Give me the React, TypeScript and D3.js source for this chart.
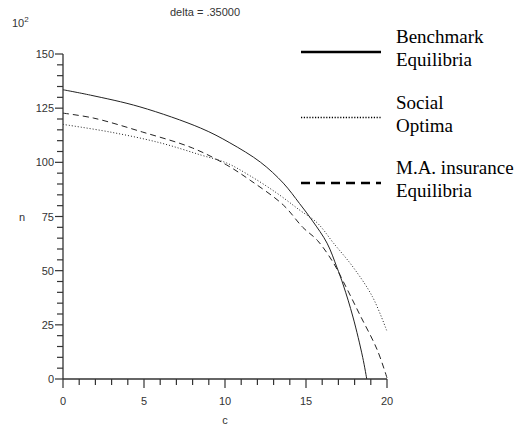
import React from 'react';
import * as d3 from 'd3';

const W = 518;
const H = 433;

// series (c, n in units of 10^2)
const benchC = [0, 1.7, 4.75, 8.5, 10.3, 12.2, 13.6, 14.6, 15.4, 16.3, 16.9, 17.3, 17.9, 18.5, 18.75];
const benchN = [133.5, 131, 125.6, 115.8, 109, 100, 90.4, 81, 73, 62.7, 51.7, 43.4, 28.6, 10, 0];

const socialC = [0, 2.9, 6, 8.5, 10.1, 11.5, 13.2, 14.6, 15.7, 16.7, 17.9, 19.1, 20];
const socialN = [117.5, 114, 109, 103.4, 99.7, 94, 85.8, 78, 72, 62.7, 51.7, 38, 22];

const maC = [0, 1.9, 4.9, 8, 10.1, 11.6, 13.6, 14.8, 15.7, 16.7, 17.3, 18.3, 19.4, 20];
const maN = [122.7, 120.4, 114, 106.6, 98.8, 91.5, 80.3, 70, 64, 53.5, 45, 30, 13.4, 0.5];

const xMajor = [0, 5, 10, 15, 20];
const yMajor = [0, 25, 50, 75, 100, 125, 150];

const legendItems = [
  { lines: ['Benchmark', 'Equilibria'], dash: null },
  { lines: ['Social', 'Optima'], dash: '1.2 1.6' },
  { lines: ['M.A. insurance', 'Equilibria'], dash: '9 6' },
];

const x = d3.scaleLinear().domain([0, 20]).range([63, 387]);
const y = d3.scaleLinear().domain([0, 150]).range([379, 54]);

const line = d3
  .line<[number, number]>()
  .x(d => x(d[0]))
  .y(d => y(d[1]))
  .curve(d3.curveCatmullRom.alpha(0.5));

const pts = (cs: number[], ns: number[]) => cs.map((c, i) => [c, ns[i]] as [number, number]);

const sans = 'Arial, "Liberation Sans", sans-serif';
const serif = '"Liberation Serif", "Times New Roman", serif';
const axisColor = '#333';

export default function App() {
  const xMinor = d3.range(0, 21, 1);
  const yMinor = d3.range(0, 151, 5);
  return (
    <svg width={W} height={H} style={{ position: 'absolute', left: 0, top: 0, background: '#fff' }}>
      {/* axes */}
      <line x1={x(0)} x2={x(20)} y1={y(0)} y2={y(0)} stroke={axisColor} strokeWidth={1.3} />
      <line x1={x(0)} x2={x(0)} y1={y(0)} y2={y(150)} stroke={axisColor} strokeWidth={1.3} />
      {xMinor.map(v => (
        <line key={'xt' + v} x1={x(v)} x2={x(v)} y1={y(0)}
          y2={y(0) + (v % 5 === 0 ? 9 : 6)} stroke={axisColor} strokeWidth={1.2} />
      ))}
      {yMinor.map(v => (
        <line key={'yt' + v} x1={x(0)} x2={x(0) - (v % 25 === 0 ? 8 : 6)} y1={y(v)} y2={y(v)}
          stroke={axisColor} strokeWidth={1.2} />
      ))}
      <g style={{ fontFamily: sans, fontSize: 11 }} fill={axisColor}>
        {xMajor.map(v => (
          <text key={'xl' + v} x={x(v)} y={405} textAnchor="middle">{v}</text>
        ))}
        {yMajor.map(v => (
          <text key={'yl' + v} x={54} y={y(v) + 4} textAnchor="end">{v}</text>
        ))}
        <text x={225} y={424} textAnchor="middle">c</text>
        <text x={22} y={221} textAnchor="middle">n</text>
        <text x={12} y={27}>
          10<tspan style={{ fontSize: 8 }} dy={-5}>2</tspan>
        </text>
        <text x={170} y={16}>delta = .35000</text>
      </g>

      {/* curves */}
      <path d={line(pts(benchC, benchN)) || ''} fill="none" stroke="#222" strokeWidth={1} />
      <path d={line(pts(socialC, socialN)) || ''} fill="none" stroke="#222" strokeWidth={1} strokeDasharray="1 2" />
      <path d={line(pts(maC, maN)) || ''} fill="none" stroke="#222" strokeWidth={1} strokeDasharray="6 4" />

      {/* legend */}
      {legendItems.map((it, i) => {
        const top = 43 + i * 65.5;
        return (
          <g key={'lg' + i}>
            <line x1={301} x2={381} y1={top + 9} y2={top + 9} stroke="#000"
              strokeWidth={it.dash === '1.2 1.6' ? 1.5 : 2.5} strokeDasharray={it.dash || undefined} />
            {it.lines.map((t, j) => (
              <text key={j} x={396} y={top + j * 23} style={{ fontFamily: serif, fontSize: 19 }} fill="#000">{t}</text>
            ))}
          </g>
        );
      })}
    </svg>
  );
}
